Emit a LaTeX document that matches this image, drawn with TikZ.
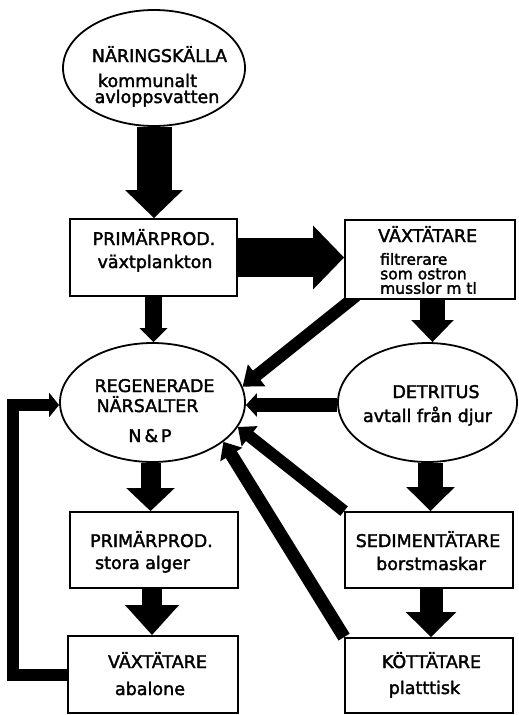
\documentclass[tikz,border=0pt]{standalone}
\usepackage{fontspec}
\setmainfont{DejaVu Sans}
\newfontfamily\lettering{DejaVu Sans}[FakeBold=2]
\usetikzlibrary{shapes.geometric,arrows.meta,backgrounds,calc}
\tikzset{
  box/.style={draw, line width=1.8pt, fill=white, inner sep=0pt},
  oval/.style={ellipse, draw, line width=1.8pt, fill=white, inner sep=0pt},
  lbl/.style={font=\lettering\fontsize{17.5}{18}\selectfont, inner sep=0pt, anchor=base},
  lbll/.style={lbl, anchor=base west},
  fat/.style n args={3}{line width=#1pt, -{Triangle[width=#2pt,length=#3pt]}},
}
\begin{document}
\begin{tikzpicture}[x=1pt,y=-1pt]
\useasboundingbox (0,0) rectangle (519,715);
% shapes
\node[oval, minimum width=182pt, minimum height=116pt] (n0) at (154,68) {};
\node[box, minimum width=167pt, minimum height=77pt] (p1) at (153.5,257.5) {};
\node[box, minimum width=170pt, minimum height=79pt] (v1) at (430,259.5) {};
\node[oval, minimum width=185pt, minimum height=119pt] (r) at (152.5,402.5) {};
\node[oval, minimum width=179pt, minimum height=119pt] (d) at (427.5,402.5) {};
\node[box, minimum width=168pt, minimum height=76pt] (p2) at (154,550) {};
\node[box, minimum width=168pt, minimum height=76pt] (s) at (429,550) {};
\node[box, minimum width=170pt, minimum height=77pt] (a) at (153,674.5) {};
\node[box, minimum width=168pt, minimum height=75pt] (k) at (429,675.5) {};
% texts
\node[lbl] (n0a) at (159.5,62) {NÄRINGSKÄLLA};
\node[lbl] (n0b) at (147.5,87) {kommunalt};
\node[lbl] (n0c) at (157,103) {avloppsvatten};
\node[lbl] (p1a) at (154,245) {PRIMÄRPROD.};
\node[lbl] (p1b) at (155,268) {växtplankton};
\node[lbll] (v1a) at (378,242) {VÄXTÄTARE};
\node[lbl, anchor=west, align=left, font=\lettering\fontsize{15.5}{14.5}\selectfont] (v1b) at (380,273.5) {filtrerare\\som ostron\\musslor m tl};
\node[lbl] (ra) at (154.5,392) {REGENERADE};
\node[lbl] (rb) at (147.5,412) {NÄRSALTER};
\node[lbl] (rc) at (150,442) {N\,\&\,P};
\node[lbl] (da) at (436,398) {DETRITUS};
\node[lbl] (db) at (427.5,422) {avtall från djur};
\node[lbl] (p2a) at (151.5,547) {PRIMÄRPROD.};
\node[lbl] (p2b) at (142.5,569) {stora alger};
\node[lbl] (sa) at (428,547) {SEDIMENTÄTARE};
\node[lbl] (sb) at (431,570) {borstmaskar};
\node[lbl] (aa) at (157.5,668) {VÄXTÄTARE};
\node[lbl] (ab) at (150,695) {abalone};
\node[lbl] (ka) at (431.5,668) {KÖTTÄTARE};
\node[lbl] (kb) at (424.5,694) {platttisk};
% connectors
\begin{pgfonlayer}{background}
\draw[fat={35}{56}{28}] (n0.south) -- (n0.south |- p1.north);
\draw[fat={39}{62}{31}] (p1.east) -- (p1.east -| v1.west);
\draw[fat={17}{27}{14}] (p1.south) -- (p1.south |- r.north);
\draw[fat={25}{41}{22}] ([xshift=2.5pt]v1.south) -- ([xshift=2.5pt]v1.south |- d.north);
\coordinate (v1c0) at ($(v1.south west)+(12,-4)$);
\draw[fat={12}{27}{18}] (v1c0) -- (r.10.3);
\draw[fat={14}{23}{11}] ([yshift=-2.5pt]d.west) -- ([yshift=-2.5pt]d.west -| r.east);
\draw[fat={12}{25}{15}] (s.north west) -- (r.-16.5);
\draw[fat={13}{25}{15}] (k.north west) -- (r.-29.6);
\draw[fat={12}{24}{10}] (a.west) -- ++(-54,0) |- ([yshift=-2.5pt]r.west);
\draw[fat={20}{47}{23}] ([xshift=-2pt]r.south) -- ([xshift=-2pt]r.south |- p2.north);
\draw[fat={20}{52}{30}] ([xshift=-2pt]p2.south) -- ([xshift=-2pt]p2.south |- a.north);
\draw[fat={25}{47}{24}] ([xshift=3pt]d.south) -- ([xshift=3pt]d.south |- s.north);
\draw[fat={23}{49}{25}] ([xshift=2pt]s.south) -- ([xshift=2pt]s.south |- k.north);
\end{pgfonlayer}
\end{tikzpicture}
\end{document}
